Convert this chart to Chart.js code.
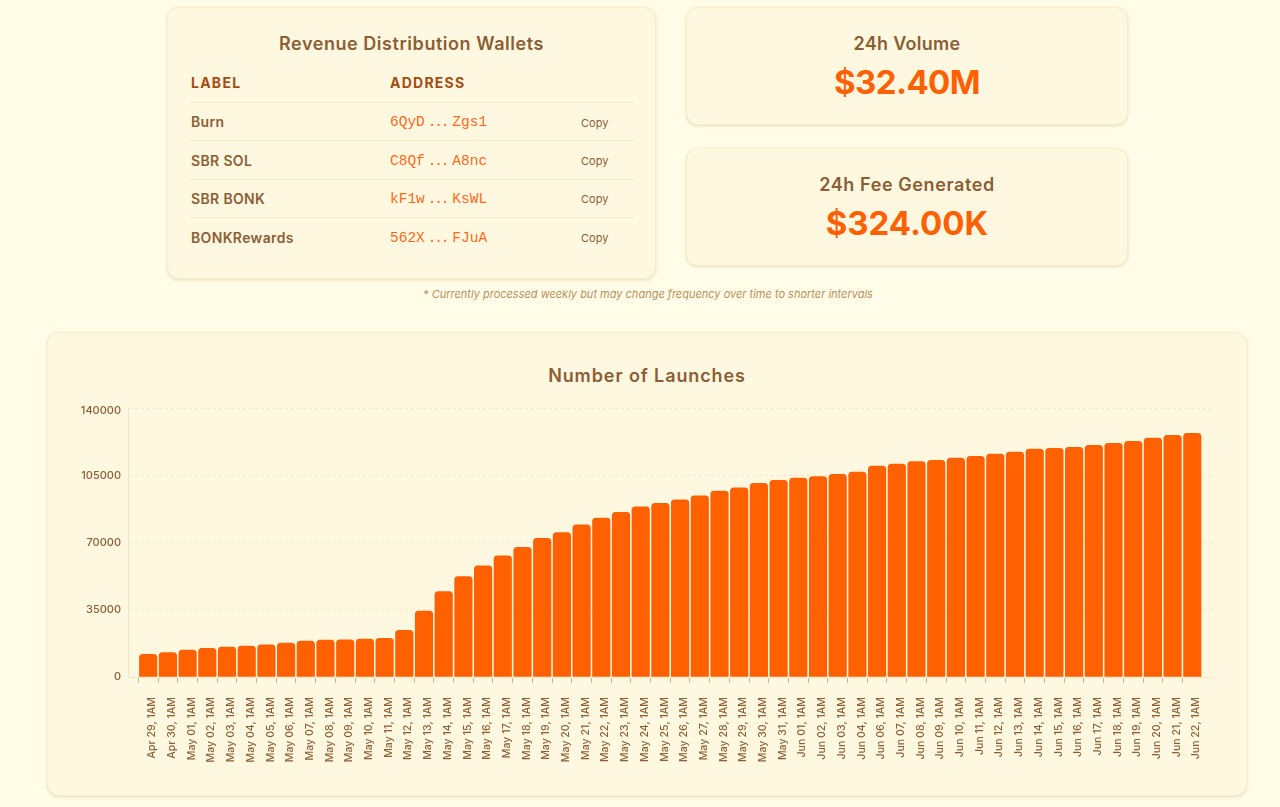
<!DOCTYPE html>
<html>
<head>
<meta charset="utf-8">
<title>Number of Launches</title>
<script src="https://cdn.jsdelivr.net/npm/chart.js@4"></script>
<style>
  html, body { margin: 0; padding: 0; }
  body { width: 1280px; height: 807px; position: relative; overflow: hidden; background: #fffde7; font-family: Inter, Roboto, sans-serif; color: #8b5e34; }
  .card { position: absolute; box-sizing: border-box; background: #fff8e1; border: 1px solid #f9eecb; border-radius: 12px; box-shadow: 0 1px 3px rgba(139, 94, 52, .22); }
  .title { position: absolute; left: 0; right: 0; text-align: center; font-size: 18px; line-height: 24px; font-weight: 600; }
  .big { position: absolute; left: 0; right: 0; text-align: center; font-size: 33px; line-height: 44px; font-weight: 700; color: #ff6000; }
  .head { position: absolute; top: 66px; font-size: 14px; line-height: 18px; font-weight: 700; letter-spacing: 1.25px; color: #a24e12; }
  .line { position: absolute; left: 23px; width: 442px; height: 1px; background: #f7ecc9; }
  .name { position: absolute; left: 23px; font-size: 14px; line-height: 18px; font-weight: 600; letter-spacing: .35px; }
  .addr { position: absolute; left: 222px; font-family: "Liberation Mono", monospace; font-size: 14.5px; line-height: 18px; color: #ff6a1a; white-space: pre; }
  .addr span { letter-spacing: -2.2px; margin: 0 5px 0 3px; }
  .copy { position: absolute; left: 413px; font-size: 11px; line-height: 14px; }
  .note { position: absolute; left: 248px; width: 800px; top: 287px; text-align: center; font-size: 11px; line-height: 14px; font-style: italic; color: #b98f5c; }
  #chartCard { left: 47px; top: 332px; width: 1200px; height: 464px; }
  #chartCard canvas { position: absolute; left: -1px; top: -1px; }
  #chartCard .title { top: 31px; letter-spacing: .9px; }
</style>
</head>
<body>
  <div class="card" style="left:167px;top:7px;width:489px;height:272px">
    <div class="title" style="top:24px;letter-spacing:.55px">Revenue Distribution Wallets</div>
    <div class="head" style="left:23px">LABEL</div>
    <div class="head" style="left:222px">ADDRESS</div>
    <div class="line" style="top:94px"></div>
    <div class="name" style="top:105px">Burn</div>
    <div class="addr" style="top:105px">6QyD<span>...</span>Zgs1</div>
    <div class="copy" style="top:108px">Copy</div>
    <div class="line" style="top:132px"></div>
    <div class="name" style="top:144px">SBR SOL</div>
    <div class="addr" style="top:144px">C8Qf<span>...</span>A8nc</div>
    <div class="copy" style="top:146px">Copy</div>
    <div class="line" style="top:171px"></div>
    <div class="name" style="top:182px">SBR BONK</div>
    <div class="addr" style="top:182px">kF1w<span>...</span>KsWL</div>
    <div class="copy" style="top:184px">Copy</div>
    <div class="line" style="top:209px"></div>
    <div class="name" style="top:221px">BONKRewards</div>
    <div class="addr" style="top:221px">562X<span>...</span>FJuA</div>
    <div class="copy" style="top:223px">Copy</div>
  </div>
  <div class="card" style="left:686px;top:7px;width:442px;height:118px">
    <div class="title" style="top:24px;letter-spacing:.3px">24h Volume</div>
    <div class="big" style="top:52px;letter-spacing:-.6px">$32.40M</div>
  </div>
  <div class="card" style="left:686px;top:148px;width:442px;height:118px">
    <div class="title" style="top:24px;letter-spacing:.6px">24h Fee Generated</div>
    <div class="big" style="top:52px">$324.00K</div>
  </div>
  <div class="note">* Currently processed weekly but may change frequency over time to shorter intervals</div>
  <div class="card" id="chartCard">
    <div class="title">Number of Launches</div>
    <canvas id="launches" width="1200" height="464"></canvas>
  </div>

<script>
const dayLabels = [
  'Apr 29, 1AM', 'Apr 30, 1AM',
  'May 01, 1AM', 'May 02, 1AM', 'May 03, 1AM', 'May 04, 1AM', 'May 05, 1AM', 'May 06, 1AM', 'May 07, 1AM', 'May 08, 1AM',
  'May 09, 1AM', 'May 10, 1AM', 'May 11, 1AM', 'May 12, 1AM', 'May 13, 1AM', 'May 14, 1AM', 'May 15, 1AM', 'May 16, 1AM',
  'May 17, 1AM', 'May 18, 1AM', 'May 19, 1AM', 'May 20, 1AM', 'May 21, 1AM', 'May 22, 1AM', 'May 23, 1AM', 'May 24, 1AM',
  'May 25, 1AM', 'May 26, 1AM', 'May 27, 1AM', 'May 28, 1AM', 'May 29, 1AM', 'May 30, 1AM', 'May 31, 1AM',
  'Jun 01, 1AM', 'Jun 02, 1AM', 'Jun 03, 1AM', 'Jun 04, 1AM', 'Jun 06, 1AM', 'Jun 07, 1AM', 'Jun 08, 1AM', 'Jun 09, 1AM',
  'Jun 10, 1AM', 'Jun 11, 1AM', 'Jun 12, 1AM', 'Jun 13, 1AM', 'Jun 14, 1AM', 'Jun 15, 1AM', 'Jun 16, 1AM', 'Jun 17, 1AM',
  'Jun 18, 1AM', 'Jun 19, 1AM', 'Jun 20, 1AM', 'Jun 21, 1AM', 'Jun 22, 1AM'
];
const launches = [
  11800, 12650,
  14050, 14900, 15600, 16130, 16800, 17700, 18700, 19250,
  19400, 19800, 20100, 24300, 34350, 44400, 52200, 57800,
  63000, 67500, 72200, 75100, 79250, 82750, 85700, 88500,
  90400, 92250, 94350, 96800, 98500, 100800, 102350,
  103550, 104250, 105500, 106700, 109800, 110850, 112050, 112750,
  114000, 114850, 116050, 117100, 118650, 119000, 119500, 120600,
  121600, 122650, 124400, 125800, 126800
];
const yTicks = [0, 35000, 70000, 105000, 140000];

const textColor = '#8b5e34';
const lineColor = '#f1e6c6';

// blank category on each end, the bars sit one full step in from the axis ends
const labels = ['', ...dayLabels, ''];
const values = [null, ...launches, null];

const ctx = document.getElementById('launches').getContext('2d');
new Chart(ctx, {
  type: 'bar',
  data: {
    labels: labels,
    datasets: [{
      label: 'Number of Launches',
      data: values,
      backgroundColor: '#ff6000',
      barThickness: 17.5,
      borderRadius: { topLeft: 3.5, topRight: 3.5 },
      borderSkipped: 'bottom'
    }]
  },
  options: {
    responsive: false,
    animation: false,
    layout: { padding: { left: 0, right: 35, top: 76, bottom: 0 } },
    plugins: { legend: { display: false }, tooltip: { enabled: false } },
    scales: {
      x: {
        offset: false,
        afterFit: scale => { scale.height = 119; },
        border: { color: lineColor },
        grid: {
          drawOnChartArea: false,
          tickLength: 6,
          tickColor: c => (labels[c.index] ? '#cdb58c' : 'rgba(0,0,0,0)')
        },
        ticks: {
          autoSkip: false,
          minRotation: 90,
          maxRotation: 90,
          padding: 14,
          labelOffset: 4,
          color: textColor,
          font: { family: 'Inter', size: 10.6, weight: '500' }
        }
      },
      y: {
        min: 0,
        max: 140000,
        afterFit: scale => { scale.width = 81.5; },
        afterBuildTicks: scale => { scale.ticks = yTicks.map(v => ({ value: v })); },
        border: { color: lineColor, dash: [3, 3] },
        grid: { color: lineColor, drawTicks: false },
        ticks: {
          padding: 7.5,
          color: textColor,
          // the top label sits a little below its gridline
          font: c => ({
            family: 'Inter',
            size: 11,
            weight: '500',
            lineHeight: c.tick && c.tick.value === 140000 ? '6px' : 1.2
          }),
          callback: v => (v === 140000 ? ['', String(v)] : String(v))
        }
      }
    }
  }
});
</script>
</body>
</html>
